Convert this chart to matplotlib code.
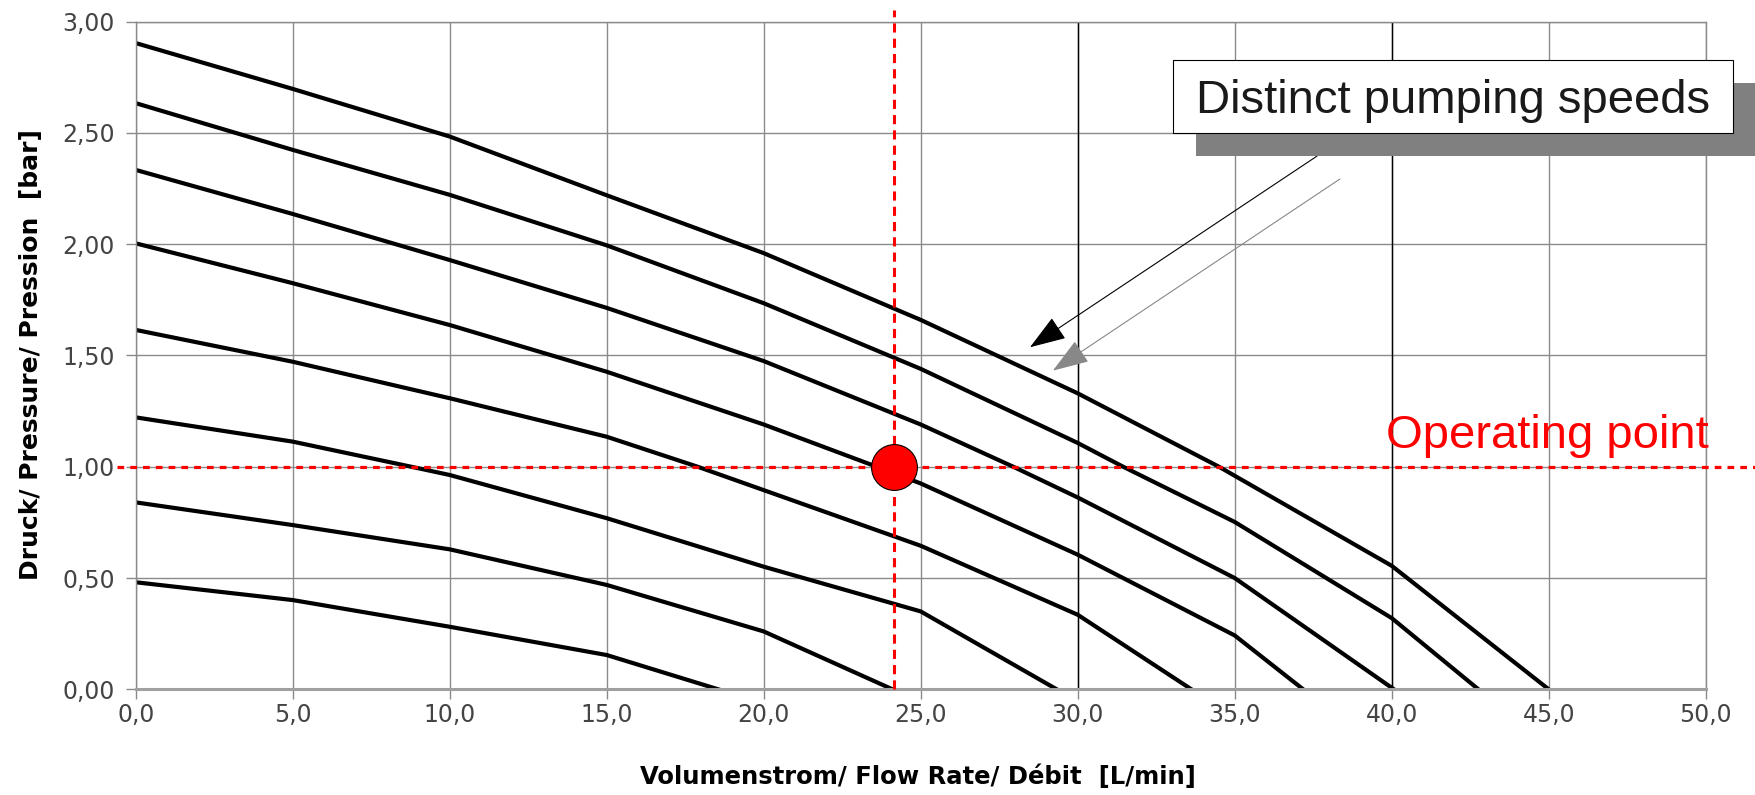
import numpy as np
import matplotlib.pyplot as plt
from matplotlib.patches import Rectangle
from matplotlib.ticker import FuncFormatter

W, H = 1755, 795

# pump curves, flow [L/min] -> pressure [bar]
flow_1 = [0, 5, 10, 15, 20, 25, 30, 34.5, 40, 45.0]
pres_1 = [2.904, 2.698, 2.484, 2.22, 1.96, 1.66, 1.33, 1.0, 0.555, 0.0]
flow_2 = [0, 5, 10, 15, 20, 25, 30, 31.45, 35, 40, 42.76]
pres_2 = [2.634, 2.424, 2.222, 1.995, 1.735, 1.44, 1.107, 1.0, 0.752, 0.32, 0.0]
flow_3 = [0, 5, 10, 15, 20, 25, 27.95, 30, 35, 40.07]
pres_3 = [2.334, 2.136, 1.929, 1.714, 1.475, 1.19, 1.0, 0.862, 0.50, 0.0]
flow_4 = [0, 5, 10, 15, 20, 23.45, 25, 30, 35, 37.18]
pres_4 = [2.004, 1.825, 1.637, 1.427, 1.19, 1.008, 0.925, 0.605, 0.242, 0.0]
flow_5 = [0, 5, 10, 15, 17.9, 20, 25, 30, 33.62]
pres_5 = [1.615, 1.472, 1.308, 1.135, 1.0, 0.895, 0.645, 0.335, 0.0]
flow_6 = [0, 5, 8.78, 10, 15, 20, 25, 29.33]
pres_6 = [1.222, 1.113, 1.0, 0.963, 0.769, 0.551, 0.35, 0.0]
flow_7 = [0, 5, 10, 15, 20, 24.1]
pres_7 = [0.840, 0.738, 0.629, 0.469, 0.26, 0.0]
flow_8 = [0, 5, 10, 15, 18.55]
pres_8 = [0.481, 0.401, 0.281, 0.154, 0.0]

curves = [(flow_1, pres_1), (flow_2, pres_2), (flow_3, pres_3), (flow_4, pres_4),
          (flow_5, pres_5), (flow_6, pres_6), (flow_7, pres_7), (flow_8, pres_8)]

op_flow = 24.16
op_pres = 1.00

xticks = np.arange(0, 50.1, 5)
yticks = np.arange(0, 3.01, 0.5)

fig = plt.figure(figsize=(W/100, H/100), dpi=100)
ax = fig.add_axes([135.7/W, 1-689.3/H, 1570/W, 667.6/H])

for fl, pr in curves:
    ax.plot(fl, pr, '-', color='black', lw=3.0, zorder=2, solid_joinstyle='round')

ax.set_xlim(0, 50)
ax.set_ylim(0, 3)
ax.set_xticks(xticks)
ax.set_yticks(yticks)
ax.xaxis.set_major_formatter(FuncFormatter(lambda v, p: ('%.1f' % v).replace('.', ',')))
ax.yaxis.set_major_formatter(FuncFormatter(lambda v, p: ('%.2f' % v).replace('.', ',')))

gridGray = '#8a8a8a'
ax.set_axisbelow(True)
ax.grid(True, color=gridGray, lw=1.0)
for xv in [30, 40]:
    ax.axvline(xv, color='black', lw=1.0, zorder=1)

for s in ax.spines.values():
    s.set_color(gridGray)
    s.set_linewidth(1.0)
ax.spines['bottom'].set_linewidth(2.2)
ax.spines['bottom'].set_color('#a0a0a0')

ax.tick_params(direction='out', length=7, width=1, color=gridGray,
               labelsize=17, labelcolor='#444444')
ax.tick_params(axis='x', pad=3)
ax.tick_params(axis='y', pad=8)

fig.text(918/W, 1-777/H, 'Volumenstrom/ Flow Rate/ Débit  [L/min]',
         ha='center', va='center', fontsize=17.5, fontweight='bold')
fig.text(31/W, 1-355/H, 'Druck/ Pressure/ Pression  [bar]', rotation=90,
         ha='center', va='center', fontsize=18, fontweight='bold')

# operating point with its dashed guide lines
ax.axhline(op_pres, xmin=-0.012, xmax=1.035, color='red', lw=2.3,
           dashes=(2.1, 1.9), clip_on=False, zorder=3)
ax.axvline(op_flow, ymin=0, ymax=1.0175, color='red', lw=2.2,
           dashes=(3.0, 2.0), clip_on=False, zorder=3)
ax.plot([op_flow], [op_pres], 'o', ms=33, mfc='red', mec='black', mew=0.8, zorder=5)

annFont = ['Liberation Sans', 'DejaVu Sans']
ax.text(39.82, 1.083, 'Operating point', color='red', fontsize=34, family=annFont,
        ha='left', va='baseline', clip_on=False, zorder=6)

# callout box with drop shadow
fig.add_artist(Rectangle((1195.5/W, 1-156/H), 560/W, 73/H, transform=fig.transFigure,
                         facecolor='#808080', edgecolor='none', zorder=3))
fig.add_artist(Rectangle((1173/W, 1-133/H), 560/W, 73/H, transform=fig.transFigure,
                         facecolor='white', edgecolor='black', lw=0.8, zorder=4))
fig.text(1453/W, 1-113/H, 'Distinct pumping speeds', ha='center', va='baseline',
         fontsize=34, family=annFont, color='#1a1a1a', zorder=5)

ax.annotate('', xy=(28.48, 1.537), xytext=(37.62, 2.396), annotation_clip=False,
            arrowprops=dict(arrowstyle='-|>,head_length=2.3,head_width=0.8',
                            mutation_scale=10, color='black', lw=0.8,
                            shrinkA=0, shrinkB=0), zorder=6)
ax.annotate('', xy=(29.21, 1.432), xytext=(38.35, 2.293), annotation_clip=False,
            arrowprops=dict(arrowstyle='-|>,head_length=2.3,head_width=0.8',
                            mutation_scale=10, color='#888888', lw=0.8,
                            shrinkA=0, shrinkB=0), zorder=6)

plt.savefig('out.png', dpi=100)
plt.close()
